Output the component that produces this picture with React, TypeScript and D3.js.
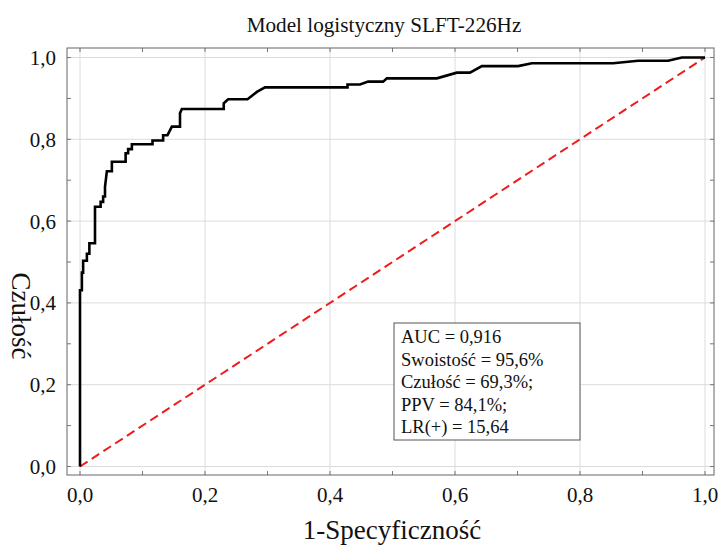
import React from "react";
import * as d3 from "d3";

const fpr = [0, 0, 0.003, 0.003, 0.005, 0.005, 0.011, 0.011, 0.015, 0.015, 0.024, 0.024, 0.033, 0.033, 0.037, 0.037, 0.04, 0.04, 0.043, 0.051, 0.051, 0.073, 0.073, 0.077, 0.077, 0.083, 0.083, 0.116, 0.116, 0.133, 0.133, 0.14, 0.147, 0.16, 0.16, 0.163, 0.23, 0.23, 0.237, 0.268, 0.283, 0.296, 0.428, 0.428, 0.448, 0.461, 0.485, 0.491, 0.571, 0.603, 0.624, 0.643, 0.701, 0.723, 0.853, 0.893, 0.941, 0.963, 1.0];
const tpr = [0, 0.431, 0.431, 0.474, 0.474, 0.503, 0.503, 0.52, 0.52, 0.546, 0.546, 0.635, 0.635, 0.647, 0.647, 0.66, 0.66, 0.684, 0.722, 0.722, 0.745, 0.745, 0.766, 0.766, 0.776, 0.776, 0.788, 0.788, 0.797, 0.797, 0.81, 0.81, 0.831, 0.831, 0.864, 0.874, 0.874, 0.888, 0.898, 0.898, 0.916, 0.927, 0.927, 0.934, 0.934, 0.941, 0.941, 0.949, 0.949, 0.963, 0.963, 0.979, 0.979, 0.986, 0.986, 0.992, 0.992, 1.0, 1.0];

const refX = [0, 1];
const refY = [0, 1];

const majorTicks = [0, 0.2, 0.4, 0.6, 0.8, 1.0];
const minorTicks = [0, 0.1, 0.2, 0.3, 0.4, 0.5, 0.6, 0.7, 0.8, 0.9, 1.0];
const tickLabels = ["0,0", "0,2", "0,4", "0,6", "0,8", "1,0"];

const title = "Model logistyczny SLFT-226Hz";
const xTitle = "1-Specyficzność";
const yTitle = "Czułość";
const statLines = ["AUC = 0,916", "Swoistość = 95,6%", "Czułość = 69,3%;", "PPV = 84,1%;", "LR(+) = 15,64"];

const W = 718;
const H = 545;
const frame = { left: 67, right: 714, top: 48, bottom: 475 };
const FONT = "'Liberation Serif', 'Times New Roman', serif";

export default function App() {
  const x = d3.scaleLinear().domain([0, 1]).range([80, 705]);
  const y = d3.scaleLinear().domain([0, 1]).range([466.5, 57.5]);

  const rocPts: [number, number][] = fpr.map((f, i) => [f, tpr[i]]);
  const line = d3
    .line<[number, number]>()
    .x((d) => x(d[0]))
    .y((d) => y(d[1]));
  const refPts: [number, number][] = refX.map((v, i) => [v, refY[i]]);

  const tickLen = 4;

  return (
    <svg
      width={W}
      height={H}
      style={{ position: "absolute", left: 0, top: 0, background: "#fff" }}
      fontFamily={FONT}
    >
      <rect x={0} y={0} width={W} height={H} fill="#fff" />
      {majorTicks.map((t, i) => (
        <g key={"g" + i}>
          <line x1={x(t)} x2={x(t)} y1={frame.top} y2={frame.bottom} stroke="#dcdcdc" strokeWidth={1} />
          <line x1={frame.left} x2={frame.right} y1={y(t)} y2={y(t)} stroke="#dcdcdc" strokeWidth={1} />
        </g>
      ))}
      {minorTicks.map((t, i) => (
        <g key={"t" + i} stroke="#777" strokeWidth={1}>
          <line x1={x(t)} x2={x(t)} y1={frame.bottom} y2={frame.bottom - tickLen} />
          <line x1={x(t)} x2={x(t)} y1={frame.top} y2={frame.top + tickLen} />
          <line x1={frame.left} x2={frame.left + tickLen} y1={y(t)} y2={y(t)} />
          <line x1={frame.right} x2={frame.right - tickLen} y1={y(t)} y2={y(t)} />
        </g>
      ))}
      <rect
        x={frame.left}
        y={frame.top}
        width={frame.right - frame.left}
        height={frame.bottom - frame.top}
        fill="none"
        stroke="#666"
        strokeWidth={1}
      />
      <path d={line(refPts) || ""} fill="none" stroke="#ee1c1c" strokeWidth={2} strokeDasharray="9,5" />
      <path d={line(rocPts) || ""} fill="none" stroke="#000" strokeWidth={2.6} strokeLinejoin="miter" />
      {majorTicks.map((t, i) => (
        <text key={"xl" + i} x={x(t)} y={502} textAnchor="middle" fontSize={21} fill="#111">
          {tickLabels[i]}
        </text>
      ))}
      {majorTicks.map((t, i) => (
        <text key={"yl" + i} x={56} y={y(t) + 7.5} textAnchor="end" fontSize={21} fill="#111">
          {tickLabels[i]}
        </text>
      ))}
      <text x={384} y={32} textAnchor="middle" fontSize={21.2} fill="#111">
        {title}
      </text>
      <text x={392} y={539} textAnchor="middle" fontSize={27} fill="#111">
        {xTitle}
      </text>
      <text transform="translate(12,316) rotate(90)" textAnchor="middle" fontSize={27} fill="#111">
        {yTitle}
      </text>
      <rect x={394} y={323} width={186} height={117} fill="#fff" stroke="#555" strokeWidth={1} />
      {statLines.map((s, i) => (
        <text key={"s" + i} x={401} y={343 + i * 22.5} fontSize={18.5} fill="#111">
          {s}
        </text>
      ))}
    </svg>
  );
}
